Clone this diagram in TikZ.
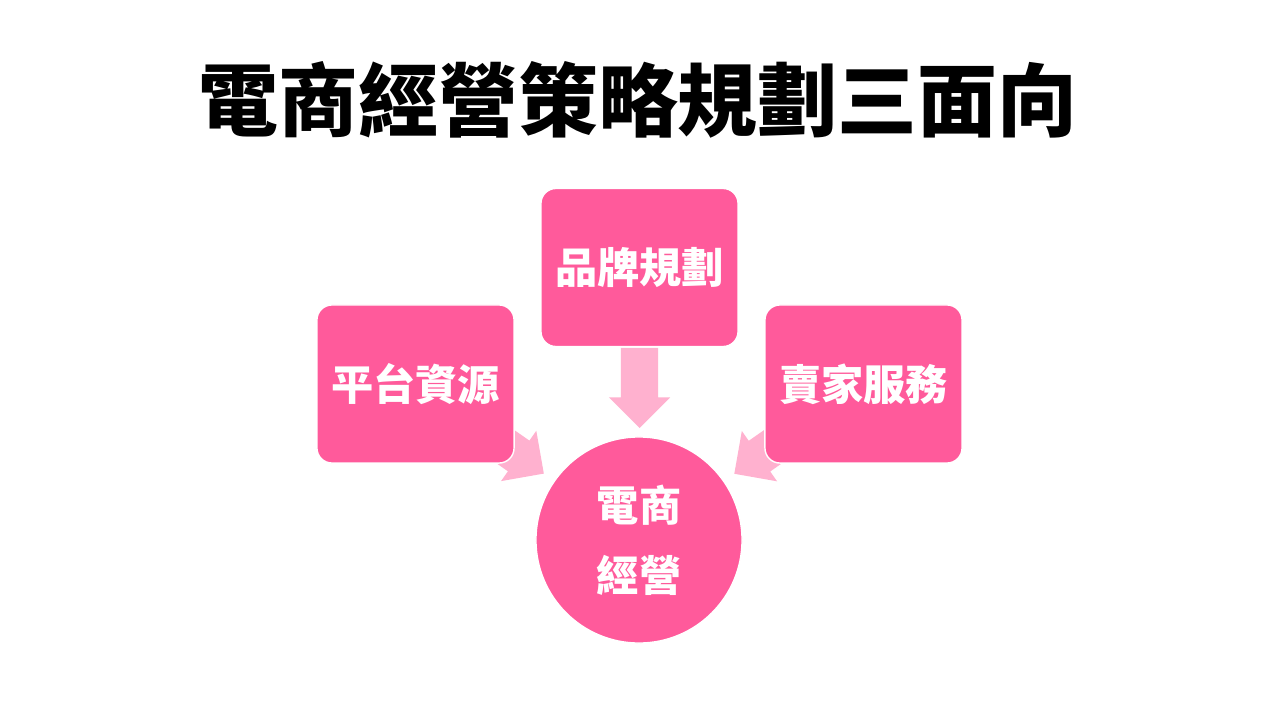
\documentclass[tikz,border=0pt]{standalone}
\usepackage{fontspec}
\setmainfont{Noto Sans CJK TC}
\usepackage{tikz}
\usetikzlibrary{calc,positioning,shapes.arrows,backgrounds}
\definecolor{boxpink}{HTML}{FF5A9B}
\definecolor{arrowpink}{HTML}{FFB1CF}
\definecolor{titleblack}{HTML}{000000}

\begin{document}
\begin{tikzpicture}[
    x=0.01cm, y=-0.01cm,
    every node/.style={font=\bfseries},
    topic/.style={rectangle, fill=boxpink, draw=white, line width=0.4pt,
                  rounded corners=0.15cm, minimum width=1.97cm, minimum height=1.58cm,
                  text=white, font=\fontsize{12}{20}\selectfont\bfseries, inner sep=0pt},
    core/.style={circle, fill=boxpink, draw=white, line width=0.4pt,
                 minimum size=2.06cm, text=white, align=center,
                 font=\fontsize{12}{20}\selectfont\bfseries, inner sep=0pt},
    flowarrow/.style={single arrow, fill=arrowpink, draw=none,
                      inner xsep=0pt, inner ysep=0.18cm,
                      minimum height=0.8cm, single arrow head extend=0.12cm},
]

\useasboundingbox (0,0) rectangle (1275,709);

% Title
\node[font=\fontsize{22.7}{28}\selectfont\bfseries, color=titleblack] (title) at (638,100)
  {電商經營策略規劃三面向};

% Center circle
\node[core] (hub) at (639,540) {電商\\經營};

% Three aspects
\node[topic] (brand) at (639.5,267.5) {品牌規劃};
\node[topic] (platform) at (415.5,384) {平台資源};
\node[topic] (seller) at (863.5,384) {賣家服務};

% Block arrows, behind the boxes
\begin{scope}[on background layer]
  \fill[white] (0,0) rectangle (1275,709);
  \node[flowarrow, rotate=-90, anchor=tail] (downarrow) at (brand.south) {};
  \node[flowarrow, rotate=-35, anchor=tip] (leftarrow)
    at ($(hub.center)!1.15cm!(platform.center)$) {};
  \node[flowarrow, rotate=-145, anchor=tip] (rightarrow)
    at ($(hub.center)!1.15cm!(seller.center)$) {};
\end{scope}

\end{tikzpicture}
\end{document}
